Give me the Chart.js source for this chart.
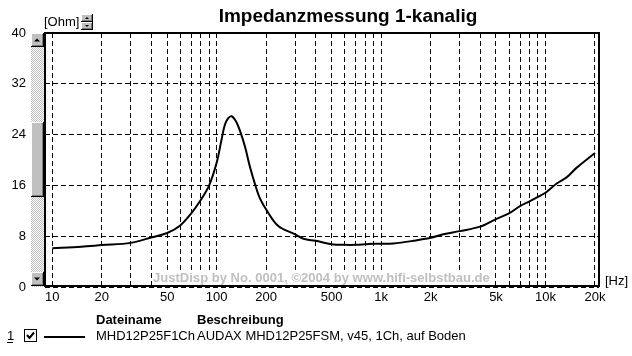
<!DOCTYPE html>
<html>
<head>
<meta charset="utf-8">
<script src="https://cdn.jsdelivr.net/npm/chart.js@4.4.1/dist/chart.umd.min.js"></script>
<style>
html,body{margin:0;padding:0;background:#fff;}
canvas{display:block;}
</style>
</head>
<body>
<canvas id="c" width="632" height="356"></canvas>
<script>
// ---- data ----
const chartTitle = 'Impedanzmessung 1-kanalig';
const frequencies = [10, 15, 20, 30, 40, 50, 60, 70, 80, 90, 100, 107, 112, 117, 123, 131, 139, 149, 159, 171, 183, 200, 237, 300, 337, 400, 500, 600, 700, 800, 900, 1000, 1186, 1570, 2000, 2390, 3000, 4000, 5000, 6000, 7000, 8000, 9000, 10000, 11700, 13500, 15500, 20000];
const impedance   = [6.1, 6.35, 6.6, 6.95, 7.8, 8.5, 9.7, 11.6, 13.7, 16.0, 19.6, 23.2, 25.5, 26.5, 26.9, 26.1, 24.5, 22.0, 19.0, 16.2, 14.0, 12.2, 9.6, 8.3, 7.6, 7.27, 6.75, 6.64, 6.64, 6.72, 6.8, 6.8, 6.85, 7.27, 7.74, 8.3, 8.8, 9.5, 10.7, 11.6, 12.75, 13.5, 14.2, 14.85, 16.3, 17.3, 18.8, 21.1];
const xGridValues = [10,20,30,40,50,60,70,80,90,100,200,300,400,500,600,700,800,900,1000,2000,3000,4000,5000,6000,7000,8000,9000,10000,20000];
const xLabelValues = [10, 20, 50, 100, 200, 500, 1000, 2000, 5000, 10000, 20000];
const xLabelTexts  = ['10','20','50','100','200','500','1k','2k','5k','10k','20k'];
const yTickValues = [0, 8, 16, 24, 32, 40];
const yUnit = '[Ohm]';
const xUnit = '[Hz]';
const legendHeaders = ['Dateiname', 'Beschreibung'];
const fileNames = ['MHD12P25F1Ch'];
const descriptions = ['AUDAX MHD12P25FSM, v45, 1Ch, auf Boden'];
const watermark = 'JustDisp by No. 0001, \u00A92004 by www.hifi-selbstbau.de';

const FONT = '"Liberation Sans", Arial, sans-serif';

function bevel(ctx, x, y, w, h) {
  ctx.fillStyle = '#c0c0c0';
  ctx.fillRect(x, y, w, h);
  ctx.fillStyle = '#ffffff';
  ctx.fillRect(x, y, w - 1, 1);
  ctx.fillRect(x, y, 1, h - 1);
  ctx.fillStyle = '#808080';
  ctx.fillRect(x + 1, y + h - 2, w - 2, 1);
  ctx.fillRect(x + w - 2, y + 1, 1, h - 2);
  ctx.fillStyle = '#000000';
  ctx.fillRect(x, y + h - 1, w, 1);
  ctx.fillRect(x + w - 1, y, 1, h);
}
function tri(ctx, cx, cy, up, s) {
  ctx.fillStyle = '#000';
  ctx.beginPath();
  if (up) { ctx.moveTo(cx - s, cy + s/2); ctx.lineTo(cx + s, cy + s/2); ctx.lineTo(cx, cy - s/2); }
  else { ctx.moveTo(cx - s, cy - s/2); ctx.lineTo(cx + s, cy - s/2); ctx.lineTo(cx, cy + s/2); }
  ctx.closePath();
  ctx.fill();
}

const decor = {
  id: 'decor',
  beforeDraw(chart) {
    const ctx = chart.ctx;
    ctx.save();
    ctx.fillStyle = '#fff';
    ctx.fillRect(0, 0, chart.width, chart.height);
    ctx.restore();
  },
  beforeDatasetsDraw(chart) {
    const ctx = chart.ctx;
    ctx.save();
    ctx.font = 'bold 12px ' + FONT;
    const w = ctx.measureText(watermark).width;
    const size = 12 * 337 / w;
    ctx.font = 'bold ' + size.toFixed(2) + 'px ' + FONT;
    ctx.fillStyle = '#fff';
    ctx.fillRect(153, 271, 338, 14);
    ctx.fillStyle = '#c0c0c0';
    ctx.textAlign = 'left';
    ctx.textBaseline = 'middle';
    ctx.fillText(watermark, 153, 278);
    ctx.restore();
  },
  afterDraw(chart) {
    const ctx = chart.ctx;
    const a = chart.chartArea;
    ctx.save();
    // plot frame
    ctx.strokeStyle = '#000';
    ctx.lineWidth = 2;
    ctx.strokeRect(a.left, a.top, a.right - a.left, a.bottom - a.top - 1);

    // scrollbar track
    const pc = document.createElement('canvas');
    pc.width = 2; pc.height = 2;
    const pctx = pc.getContext('2d');
    pctx.fillStyle = '#ffffff'; pctx.fillRect(0, 0, 2, 2);
    pctx.fillStyle = '#c0c0c0'; pctx.fillRect(0, 0, 1, 1); pctx.fillRect(1, 1, 1, 1);
    ctx.fillStyle = ctx.createPattern(pc, 'repeat');
    const sx = 31, sw = 13;
    ctx.fillRect(sx, a.top, sw, a.bottom - a.top);
    bevel(ctx, sx, a.top, sw, 14);
    tri(ctx, sx + 6, a.top + 7, true, 3);
    bevel(ctx, sx, a.bottom - 15, sw, 14);
    tri(ctx, sx + 6, a.bottom - 8, false, 3);
    bevel(ctx, sx, 122, sw, 75);

    // unit labels
    ctx.fillStyle = '#000';
    ctx.font = '13px ' + FONT;
    ctx.textBaseline = 'middle';
    ctx.textAlign = 'left';
    ctx.fillText(yUnit, 44, 22);
    ctx.fillText(xUnit, 605, 281);
    // spinner
    bevel(ctx, 81, 14, 12, 8);
    tri(ctx, 87, 18, true, 2);
    bevel(ctx, 81, 22, 12, 8);
    tri(ctx, 87, 26, false, 2);

    // title
    ctx.font = 'bold 19px ' + FONT;
    ctx.textAlign = 'center';
    ctx.fillStyle = '#000';
    ctx.fillText(chartTitle, 348, 17);

    // legend table
    ctx.textAlign = 'left';
    ctx.font = 'bold 13px ' + FONT;
    ctx.fillText(legendHeaders[0], 96, 320);
    ctx.fillText(legendHeaders[1], 197, 320);
    ctx.font = '13px ' + FONT;
    fileNames.forEach((fn, i) => {
      const y = 336 + i * 16;
      ctx.fillStyle = '#000';
      ctx.fillText(String(i + 1), 7, y);
      ctx.fillRect(7, y + 6, 6, 1);
      // checkbox
      ctx.fillStyle = '#fff';
      ctx.fillRect(24, y - 6, 12, 12);
      ctx.strokeStyle = '#000';
      ctx.lineWidth = 1;
      ctx.strokeRect(24.5, y - 6.5, 12, 12);
      ctx.lineWidth = 2;
      ctx.beginPath();
      ctx.moveTo(27, y - 1); ctx.lineTo(29.5, y + 2); ctx.lineTo(34, y - 3.5);
      ctx.stroke();
      // line sample
      ctx.fillStyle = '#000';
      ctx.fillRect(44, y, 41, 2);
      ctx.fillText(fn, 96, y);
      ctx.fillText(descriptions[i], 197, y);
    });
    ctx.restore();
  }
};

new Chart(document.getElementById('c'), {
  type: 'line',
  data: {
    labels: frequencies,
    datasets: [{
      label: fileNames[0],
      data: frequencies.map((f, i) => ({x: f, y: impedance[i]})),
      borderColor: '#000',
      borderWidth: 2,
      pointRadius: 0,
      fill: false,
      tension: 0.35
    }]
  },
  options: {
    responsive: false,
    animation: false,
    devicePixelRatio: 1,
    layout: { padding: { top: 33, right: 33, left: 0, bottom: 0 } },
    plugins: { legend: { display: false }, title: { display: false }, tooltip: { enabled: false } },
    scales: {
      x: {
        type: 'logarithmic',
        min: 9.03,
        max: 21160,
        afterBuildTicks: (s) => { s.ticks = xGridValues.map(v => ({ value: v })); },
        afterFit: (s) => { s.height = 69; },
        ticks: {
          autoSkip: false, maxRotation: 0, minRotation: 0, padding: 3,
          color: '#000', font: { family: FONT, size: 13 },
          callback: (v) => { const i = xLabelValues.indexOf(v); return i >= 0 ? xLabelTexts[i] : ''; }
        },
        grid: { color: '#000', lineWidth: 1, drawTicks: false },
        border: { display: false, dash: [5, 3] }
      },
      y: {
        type: 'linear',
        min: 0,
        max: 40,
        afterBuildTicks: (s) => { s.ticks = yTickValues.map(v => ({ value: v })); },
        afterFit: (s) => { s.width = 45; },
        ticks: { padding: 19, color: '#000', font: { family: FONT, size: 13 } },
        grid: { color: '#000', lineWidth: 1, drawTicks: false },
        border: { display: false, dash: [5, 3] }
      }
    }
  },
  plugins: [decor]
});
</script>
</body>
</html>
